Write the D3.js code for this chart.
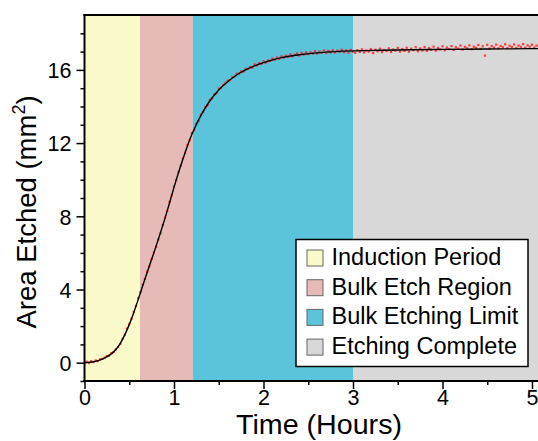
<!DOCTYPE html>
<html>
<head>
<meta charset="utf-8">
<script src="https://cdn.jsdelivr.net/npm/d3@7"></script>
<style>
  html, body { margin: 0; padding: 0; background: #fff; }
  svg { display: block; font-family: "Liberation Sans", Arial, sans-serif; }
</style>
</head>
<body>
<svg id="chart" width="538" height="441"></svg>
<script>
// Etching stages: name, start/end time (hours), fill colour
const stageNames = ["Induction Period", "Bulk Etch Region", "Bulk Etching Limit", "Etching Complete"];
const stageBounds = [0, 0.62, 1.21, 3.0, 5.1];
const stageColors = ["#faf9c9", "#e6bab6", "#5bc4da", "#d8d8d8"];

// Fitted curve (time in hours, area in mm²)
const fitTime = [0, 0.1, 0.2, 0.3, 0.35, 0.4, 0.45, 0.5, 0.55, 0.6, 0.65, 0.7, 0.75, 0.8, 0.85, 0.9, 0.95,
  1.0, 1.05, 1.1, 1.15, 1.2, 1.25, 1.3, 1.4, 1.5, 1.6, 1.7, 1.8, 1.9, 2.0, 2.2, 2.4, 2.6, 2.8, 3.0,
  3.5, 4.0, 4.5, 5.0, 5.1];
const fitArea = [0, 0.05, 0.2, 0.48, 0.72, 1.06, 1.52, 2.08, 2.73, 3.45, 4.2, 4.93, 5.65, 6.37, 7.12, 7.9, 8.73,
  9.58, 10.38, 11.13, 11.84, 12.48, 13.02, 13.5, 14.3, 14.9, 15.35, 15.72, 16.0, 16.22, 16.4, 16.67, 16.83, 16.93, 17.0, 17.04,
  17.09, 17.12, 17.14, 17.16, 17.16];

// Measured area, sampled every 0.025 h from t = 0
const sampleStep = 0.025;
const measuredArea = [
  0.02, 0.05, -0.02, 0.08, 0.03, 0.12, 0.09, 0.19, 0.21, 0.27, 0.36, 0.38, 0.52, 0.58, 0.73, 0.86,
  1.02, 1.31, 1.53, 1.86, 2.12, 2.40, 2.78, 3.10, 3.52, 3.86, 4.27, 4.58, 4.97, 5.28, 5.66, 6.02,
  6.33, 6.74, 7.08, 7.52, 7.92, 8.30, 8.78, 9.14, 9.63, 9.98, 10.42, 10.76, 11.18, 11.47, 11.90, 12.16,
  12.55, 12.70, 13.06, 13.21, 13.55, 13.70, 13.96, 14.08, 14.36, 14.44, 14.66, 14.72, 14.98, 15.02, 15.18, 15.30,
  15.41, 15.44, 15.60, 15.62, 15.79, 15.80, 15.92, 15.90, 16.06, 16.05, 16.16, 16.12, 16.30, 16.24, 16.36, 16.33,
  16.47, 16.39, 16.52, 16.50, 16.62, 16.55, 16.68, 16.60, 16.74, 16.66, 16.78, 16.71, 16.85, 16.74, 16.82, 16.90,
  16.78, 16.93, 16.84, 16.97, 16.86, 16.95, 16.89, 17.02, 16.90, 17.00, 16.93, 17.06, 16.92, 17.04, 16.96, 17.08,
  16.95, 17.05, 16.98, 17.10, 16.97, 17.07, 16.94, 17.09, 17.00, 16.93, 17.08, 16.98, 17.12, 16.95, 17.06, 17.00,
  17.14, 16.92, 17.10, 17.02, 17.16, 16.97, 17.09, 17.03, 17.18, 16.98, 17.12, 17.05, 17.20, 17.00, 17.14, 17.04,
  17.21, 16.99, 17.16, 17.08, 17.24, 17.02, 17.17, 17.06, 17.25, 17.04, 17.19, 17.10, 17.27, 17.05, 17.20, 17.12,
  17.29, 17.07, 17.22, 17.14, 17.30, 17.09, 17.24, 17.16, 17.33, 17.11, 17.26, 17.18, 17.34, 17.13, 17.27, 17.20,
  17.36, 17.15, 17.29, 16.78, 17.37, 17.17, 17.30, 17.22, 17.38, 17.18, 17.31, 17.24, 17.40, 17.19, 17.32, 17.25,
  17.39, 17.20, 17.33, 17.26, 17.41, 17.21, 17.34, 17.27, 17.38, 17.22, 17.33, 17.28
];

const xTicks = [0, 1, 2, 3, 4, 5];
const xMinorTicks = [0.5, 1.5, 2.5, 3.5, 4.5];
const yTicks = [0, 4, 8, 12, 16];
const yMinorTicks = [-1, 1, 2, 3, 5, 6, 7, 9, 10, 11, 13, 14, 15, 17, 18];

const svg = d3.select("#chart");
const plot = { left: 84.5, right: 538, top: 15, bottom: 381 };

const x = d3.scaleLinear().domain([0, 5.1]).range([plot.left, plot.left + 5.1 * 89.5]);
const y = d3.scaleLinear().domain([-1, 19]).range([plot.bottom, plot.top]);

svg.append("defs").append("clipPath").attr("id", "plot-clip")
  .append("rect")
  .attr("x", plot.left).attr("y", plot.top)
  .attr("width", plot.right - plot.left).attr("height", plot.bottom - plot.top);

const inner = svg.append("g").attr("clip-path", "url(#plot-clip)");

// Stage backgrounds
inner.selectAll("rect.stage")
  .data(stageNames.map((n, i) => ({ name: n, x0: stageBounds[i], x1: stageBounds[i + 1], color: stageColors[i] })))
  .join("rect")
  .attr("class", "stage")
  .attr("x", d => x(d.x0))
  .attr("y", plot.top)
  .attr("width", d => x(d.x1) - x(d.x0))
  .attr("height", plot.bottom - plot.top)
  .attr("fill", d => d.color);

// Measured points
const measured = measuredArea.map((v, i) => ({ t: i * sampleStep, a: v }));
inner.selectAll("rect.pt")
  .data(measured)
  .join("rect")
  .attr("class", "pt")
  .attr("x", d => x(d.t) - 1.1)
  .attr("y", d => y(d.a) - 1.1)
  .attr("width", 2.2)
  .attr("height", 2.2)
  .attr("fill", "#ff2020")
  .attr("opacity", 0.85);

// Fitted curve
const fit = fitTime.map((t, i) => ({ t, a: fitArea[i] }));
inner.append("path")
  .datum(fit)
  .attr("fill", "none")
  .attr("stroke", "#000")
  .attr("stroke-width", 1.4)
  .attr("d", d3.line().x(d => x(d.t)).y(d => y(d.a)).curve(d3.curveCatmullRom.alpha(0.5)));

// Axes
const tickFont = 21.5;
const xAxis = svg.append("g").attr("transform", `translate(0,${plot.bottom})`)
  .call(d3.axisBottom(x).tickValues(xTicks).tickFormat(d3.format("d")).tickSizeOuter(0).tickSize(8).tickPadding(4));
const yAxis = svg.append("g").attr("transform", `translate(${plot.left},0)`)
  .call(d3.axisLeft(y).tickValues(yTicks).tickFormat(d3.format("d")).tickSizeOuter(0).tickSize(8).tickPadding(5));

svg.append("g").attr("transform", `translate(0,${plot.bottom})`)
  .call(d3.axisBottom(x).tickValues(xMinorTicks).tickFormat("").tickSizeOuter(0).tickSize(4));
svg.append("g").attr("transform", `translate(${plot.left},0)`)
  .call(d3.axisLeft(y).tickValues(yMinorTicks).tickFormat("").tickSizeOuter(0).tickSize(4));

svg.selectAll(".domain").remove();
svg.selectAll(".tick line").attr("stroke", "#000").attr("stroke-width", 1.5);
xAxis.selectAll(".tick text").attr("font-size", tickFont).attr("fill", "#000")
  .attr("font-family", "Liberation Sans, Arial, sans-serif").attr("y", 23.5).attr("dy", 0);
yAxis.selectAll(".tick text").attr("font-size", tickFont).attr("fill", "#000")
  .attr("font-family", "Liberation Sans, Arial, sans-serif").attr("x", -13).attr("dy", "0.36em");

// Frame lines: left, bottom, top
svg.append("line").attr("x1", plot.left).attr("x2", plot.left).attr("y1", plot.top - 1).attr("y2", plot.bottom + 1)
  .attr("stroke", "#000").attr("stroke-width", 2);
svg.append("line").attr("x1", plot.left - 1).attr("x2", plot.right).attr("y1", plot.bottom).attr("y2", plot.bottom)
  .attr("stroke", "#000").attr("stroke-width", 2);
svg.append("line").attr("x1", plot.left - 1).attr("x2", plot.right).attr("y1", plot.top).attr("y2", plot.top)
  .attr("stroke", "#000").attr("stroke-width", 2);

// Axis titles
svg.append("text")
  .attr("x", 319).attr("y", 434)
  .attr("text-anchor", "middle")
  .attr("font-size", 27)
  .attr("textLength", 166)
  .attr("lengthAdjust", "spacingAndGlyphs")
  .attr("fill", "#000")
  .text("Time (Hours)");

const yTitle = svg.append("text")
  .attr("transform", "translate(36,212) rotate(-90)")
  .attr("text-anchor", "middle")
  .attr("font-size", 27.5)
  .attr("fill", "#000");
yTitle.append("tspan").text("Area Etched (mm");
yTitle.append("tspan").attr("font-size", 18).attr("dy", -11).text("2");
yTitle.append("tspan").attr("dy", 11).text(")");

// Legend
const legend = svg.append("g").attr("transform", "translate(296,239.5)");
legend.append("rect")
  .attr("width", 232).attr("height", 127)
  .attr("fill", "#fff").attr("stroke", "#000").attr("stroke-width", 1.5);
const rows = legend.selectAll("g.row")
  .data(stageNames.map((n, i) => ({ name: n, color: stageColors[i] })))
  .join("g")
  .attr("class", "row")
  .attr("transform", (d, i) => `translate(0,${25.5 + i * 29.7})`);
rows.append("rect")
  .attr("x", 11).attr("y", -15).attr("width", 16).attr("height", 16)
  .attr("fill", d => d.color).attr("stroke", "#666").attr("stroke-width", 1);
rows.append("text")
  .attr("x", 35.5).attr("y", 0)
  .attr("font-size", 23.5)
  .attr("fill", "#000")
  .text(d => d.name);
</script>
</body>
</html>
